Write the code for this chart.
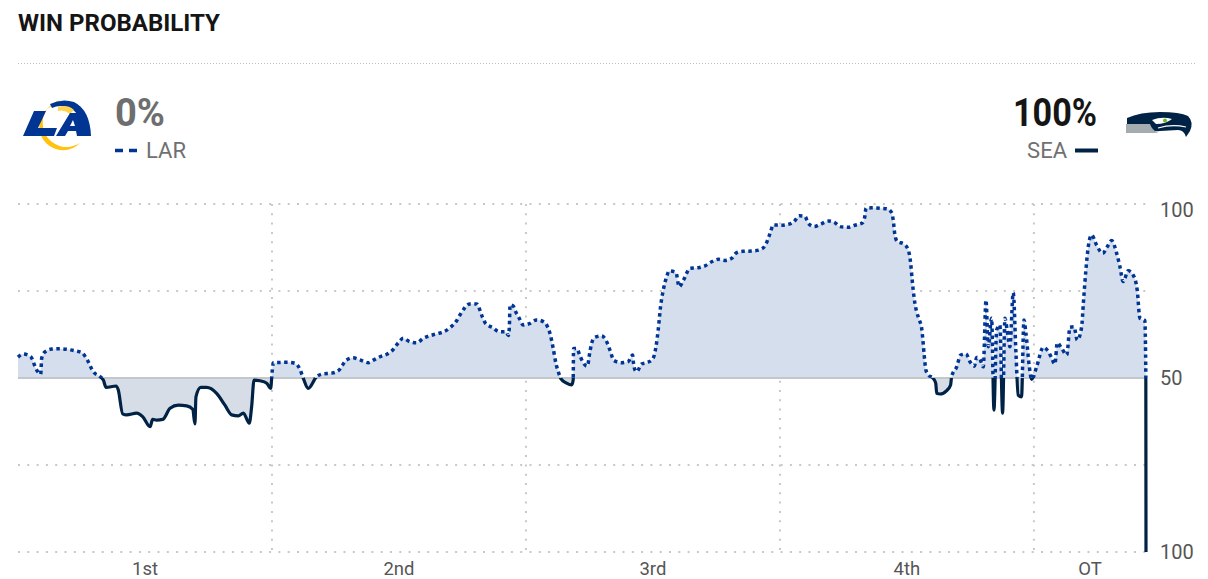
<!DOCTYPE html>
<html>
  <head>
    <meta http-equiv="Content-Type" content="text/html;charset=utf-8" />
    <title>Win probability</title>
    <script type="text/javascript" src="https://d3js.org/d3.v7.min.js"></script>
    <style>
      body { margin: 0; background: #fff; }
      text { font-family: Roboto, "Noto Sans", sans-serif; }
    </style>
  </head>
  <body>
    <div id="chart"></div>

    <script type="text/javascript">
      // game clock elapsed (minutes) and LAR win probability (%)
      var gameMinutes = [
        0, 0.30, 0.75, 1.10, 1.34, 1.40, 1.59, 1.99, 2.48, 3.37,
        3.76, 4.06, 4.45, 4.84, 5.04, 5.20, 5.79, 5.92, 6.18, 6.42,
        7.01, 7.36, 7.80, 7.95, 8.19, 8.55, 8.98, 9.47, 9.96, 10.32,
        10.45, 10.51, 10.79, 11.14, 11.73, 12.22, 12.62, 13.01, 13.31, 13.66,
        13.80, 13.94, 14.29, 14.69, 14.92, 15.02, 15.08, 15.96, 16.36, 16.65,
        16.85, 17.14, 17.64, 18.03, 18.53, 18.92, 19.41, 19.80, 20.20, 20.69,
        21.02, 21.38, 21.81, 22.16, 22.46, 22.75, 23.15, 23.55, 23.93, 24.37,
        24.82, 25.16, 25.55, 25.87, 26.10, 26.69, 27.08, 27.44, 27.64, 28.03,
        28.42, 28.82, 28.96, 29.02, 29.06, 29.25, 29.35, 29.60, 29.84, 30.24,
        30.63, 31.02, 31.26, 31.42, 31.61, 31.77, 31.91, 32.05, 32.40, 32.70,
        32.79, 32.81, 32.99, 33.19, 33.38, 33.62, 33.78, 33.88, 34.07, 34.47,
        34.77, 34.96, 35.20, 35.65, 36.04, 36.30, 36.34, 36.44, 36.54, 36.83,
        37.13, 37.48, 37.68, 37.81, 37.95, 38.11, 38.31, 38.46, 38.86, 39.05,
        39.29, 39.69, 40.18, 40.57, 40.97, 41.36, 41.75, 42.15, 42.44, 42.83,
        43.33, 43.78, 44.11, 44.31, 44.45, 44.60, 45.00, 45.43, 45.83, 46.14,
        46.48, 46.67, 47.01, 47.40, 47.85, 48.25, 48.54, 49.03, 49.43, 49.88,
        50.02, 50.08, 50.41, 50.91, 51.34, 51.60, 51.69, 51.79, 51.93, 52.32,
        52.58, 52.72, 52.81, 52.87, 52.97, 53.07, 53.23, 53.37, 53.46, 53.52,
        53.62, 53.76, 54.05, 54.20, 54.26, 54.45, 54.85, 55.08, 55.14, 55.44,
        55.67, 55.99, 56.22, 56.48, 56.62, 56.81, 57.01, 57.17, 57.30, 57.50,
        57.64, 57.80, 57.99, 58.15, 58.29, 58.42, 58.58, 58.78, 58.94, 59.07,
        59.27, 59.41, 59.53, 59.73, 59.87, 60.16, 60.55, 60.85, 61.05, 61.24,
        61.38, 61.64, 61.94, 62.13, 62.37, 62.56, 62.82, 62.92, 63.07, 63.21,
        63.41, 63.70, 64.06, 64.33, 64.59, 64.89, 65.08, 65.27, 65.57, 65.86,
        66.10, 66.26, 66.55, 66.61, 66.62
      ];
      var larWinPct = [
        56.0, 56.9, 56.1, 52.3, 51.1, 55.7, 57.5, 58.3, 58.4, 57.8,
        57.3, 55.5, 51.8, 50.4, 49.4, 47.3, 47.7, 46.6, 39.7, 39.4,
        39.9, 38.9, 36.0, 38.1, 37.9, 38.1, 41.3, 42.2, 42.0, 41.0,
        36.8, 44.6, 47.3, 47.3, 45.6, 42.2, 39.4, 39.1, 39.9, 37.0,
        41.8, 49.4, 49.2, 48.5, 47.0, 52.3, 54.4, 54.5, 54.2, 52.5,
        49.9, 47.0, 50.4, 51.2, 51.4, 52.1, 55.2, 55.8, 55.2, 54.4,
        55.2, 56.1, 56.9, 58.2, 60.1, 61.4, 60.4, 60.1, 61.4, 62.2,
        62.8, 63.3, 64.6, 66.2, 68.1, 71.3, 71.3, 67.4, 65.5, 64.5,
        63.3, 63.3, 62.2, 64.7, 71.0, 70.7, 69.5, 67.2, 65.2, 65.7,
        66.7, 66.2, 64.9, 62.8, 58.5, 54.2, 51.8, 49.9, 48.5, 48.0,
        49.4, 58.5, 58.5, 56.4, 54.4, 53.4, 57.6, 60.0, 61.7, 62.1,
        60.4, 58.0, 55.0, 54.4, 54.7, 56.6, 54.7, 52.3, 51.8, 54.0,
        54.4, 55.4, 59.0, 63.8, 70.5, 75.3, 79.1, 80.8, 80.3, 76.2,
        78.0, 81.5, 81.7, 82.2, 83.4, 84.1, 83.8, 84.4, 86.0, 86.4,
        86.5, 86.8, 87.9, 90.1, 92.0, 94.0, 93.9, 94.1, 94.9, 96.6,
        96.4, 94.5, 93.5, 94.2, 95.1, 94.6, 93.5, 93.3, 93.9, 94.6,
        96.6, 98.8, 98.9, 98.8, 98.6, 97.5, 95.4, 91.1, 89.2, 88.5,
        86.8, 83.0, 78.2, 75.3, 71.5, 69.1, 66.7, 64.3, 60.0, 56.6,
        52.3, 50.9, 49.9, 48.5, 45.6, 45.4, 46.4, 48.0, 50.4, 53.2,
        56.6, 56.9, 54.7, 53.4, 55.9, 55.4, 53.2, 72.4, 59.0, 67.2,
        40.8, 63.8, 65.2, 39.9, 67.2, 63.8, 59.0, 74.5, 57.1, 45.1,
        44.6, 66.7, 62.8, 53.2, 49.6, 53.2, 58.8, 57.6, 55.7, 54.0,
        60.1, 58.5, 56.6, 64.6, 64.7, 60.9, 64.7, 71.5, 81.0, 87.7,
        91.1, 88.2, 85.8, 87.7, 89.5, 85.8, 82.0, 77.7, 80.8, 79.6,
        75.3, 67.2, 66.5, 50.4, 0
      ];

      var periodLabels = ["1st", "2nd", "3rd", "4th", "OT"];
      var periodStarts = [0, 15, 30, 45, 60];
      var yTicks = [100, 75, 50, 25, 0];
      var yTickLabels = { 100: "100", 50: "50", 0: "100" };

      var teams = [
        { abbr: "LAR", pct: "0%", color: "#003594" },
        { abbr: "SEA", pct: "100%", color: "#002244" }
      ];

      var W = 1208, H = 579;
      var margin = { left: 18, right: 62, top: 204, bottom: 27 };
      var gameEnd = gameMinutes[gameMinutes.length - 1];

      var data = gameMinutes.map((t, i) => ({ t: t, p: larWinPct[i] }));

      var svg = d3
        .select("#chart")
        .append("svg")
        .attr("width", W)
        .attr("height", H);

      var x = d3
        .scaleLinear()
        .domain([0, gameEnd])
        .range([margin.left, W - margin.right]);

      var y = d3
        .scaleLinear()
        .domain([0, 100])
        .range([H - margin.bottom, margin.top]);

      // ---- header
      svg
        .append("text")
        .attr("x", 18)
        .attr("y", 31)
        .attr("font-size", 24)
        .attr("font-weight", 700)
        .attr("fill", "#151515")
        .attr("textLength", 202)
        .attr("lengthAdjust", "spacingAndGlyphs")
        .text("WIN PROBABILITY");

      svg
        .append("line")
        .attr("x1", 18)
        .attr("x2", 1195)
        .attr("y1", 63.5)
        .attr("y2", 63.5)
        .attr("stroke", "#bdbdbd")
        .attr("stroke-width", 1)
        .attr("stroke-dasharray", "1 2");

      // LAR side
      svg
        .append("text")
        .attr("x", 115)
        .attr("y", 126)
        .attr("font-size", 38)
        .attr("font-weight", 700)
        .attr("fill", "#6e6e6e")
        .attr("textLength", 50)
        .attr("lengthAdjust", "spacingAndGlyphs")
        .text(teams[0].pct);

      svg
        .append("line")
        .attr("x1", 115)
        .attr("x2", 138)
        .attr("y1", 150.5)
        .attr("y2", 150.5)
        .attr("stroke", teams[0].color)
        .attr("stroke-width", 3.5)
        .attr("stroke-dasharray", "8 6");

      svg
        .append("text")
        .attr("x", 146)
        .attr("y", 158)
        .attr("font-size", 22)
        .attr("fill", "#707070")
        .text(teams[0].abbr);

      // SEA side
      svg
        .append("text")
        .attr("x", 1097)
        .attr("y", 126)
        .attr("text-anchor", "end")
        .attr("font-size", 38)
        .attr("font-weight", 700)
        .attr("fill", "#151515")
        .attr("textLength", 84)
        .attr("lengthAdjust", "spacingAndGlyphs")
        .text(teams[1].pct);

      svg
        .append("text")
        .attr("x", 1067)
        .attr("y", 158)
        .attr("text-anchor", "end")
        .attr("font-size", 22)
        .attr("fill", "#707070")
        .text(teams[1].abbr);

      svg
        .append("line")
        .attr("x1", 1075)
        .attr("x2", 1098)
        .attr("y1", 150.5)
        .attr("y2", 150.5)
        .attr("stroke", teams[1].color)
        .attr("stroke-width", 4);

      // ---- logos (rough drawings)
      var rams = svg.append("g").attr("class", "logo-lar");
      rams
        .append("path")
        .attr("d", "M60,100 A24,24 0 1,0 80,143 A19,19 0 1,1 46,110 Z")
        .attr("fill", "#ffc20e");
      rams
        .append("path")
        .attr("d", "M50,104 Q62,98 74,102 Q90,110 91,136 L83,136 Q82,114 70,108 Q60,104 52,108 Z")
        .attr("fill", "#003594");
      rams
        .append("path")
        .attr("d", "M58,107 Q68,104 74,110 L70,114 Q64,109 58,111 Z")
        .attr("fill", "#ffd34e");
      rams
        .append("polygon")
        .attr("points", "34,111 46,111 38,128 57,128 54,136 23,136")
        .attr("fill", "#003594");
      rams
        .append("polygon")
        .attr("points", "70,113 79,113 86,136 77,136 76,131 68,131 65,136 56,136")
        .attr("fill", "#003594");
      rams
        .append("polygon")
        .attr("points", "73,120 75,126 70,126")
        .attr("fill", "#fff");

      var hawk = svg.append("g").attr("class", "logo-sea");
      hawk
        .append("path")
        .attr("d", "M1127,118 Q1140,112 1160,112 Q1180,112 1188,116 Q1194,122 1190,131 L1186,137 Q1184,130 1178,130 L1160,131 Q1150,132 1144,128 L1127,126 Z")
        .attr("fill", "#002244");
      hawk
        .append("path")
        .attr("d", "M1126,124 L1150,124 Q1152,130 1158,133 L1126,133 Z")
        .attr("fill", "#a5acaf");
      hawk
        .append("path")
        .attr("d", "M1152,120 Q1162,116 1172,119 Q1166,124 1156,124 Z")
        .attr("fill", "#fff");
      hawk
        .append("circle")
        .attr("cx", 1165)
        .attr("cy", 120.5)
        .attr("r", 2)
        .attr("fill", "#69be28");
      hawk
        .append("path")
        .attr("d", "M1158,128 Q1172,124 1186,127")
        .attr("fill", "none")
        .attr("stroke", "#fff")
        .attr("stroke-width", 1.2);

      // ---- grid
      var grid = svg.append("g").attr("class", "grid");

      grid
        .selectAll("line.h")
        .data(yTicks.filter(d => d !== 50))
        .enter()
        .append("line")
        .attr("class", "h")
        .attr("x1", x(0))
        .attr("x2", x(gameEnd))
        .attr("y1", d => y(d))
        .attr("y2", d => y(d))
        .attr("stroke", "#c8c8c8")
        .attr("stroke-width", 2)
        .attr("stroke-dasharray", "2 7.3");

      grid
        .selectAll("line.v")
        .data(periodStarts.slice(1))
        .enter()
        .append("line")
        .attr("class", "v")
        .attr("x1", d => x(d))
        .attr("x2", d => x(d))
        .attr("y1", y(100))
        .attr("y2", y(0))
        .attr("stroke", "#c8c8c8")
        .attr("stroke-width", 2)
        .attr("stroke-dasharray", "2 7.3");

      // ---- clip halves
      var defs = svg.append("defs");
      defs
        .append("clipPath")
        .attr("id", "clip-above")
        .append("rect")
        .attr("x", 0)
        .attr("y", 0)
        .attr("width", W)
        .attr("height", y(50));
      defs
        .append("clipPath")
        .attr("id", "clip-below")
        .append("rect")
        .attr("x", 0)
        .attr("y", y(50))
        .attr("width", W)
        .attr("height", H - y(50));

      var area = d3
        .area()
        .x(d => x(d.t))
        .y0(y(50))
        .y1(d => y(d.p))
        .curve(d3.curveMonotoneX);

      var line = d3
        .line()
        .x(d => x(d.t))
        .y(d => y(d.p))
        .curve(d3.curveMonotoneX);

      svg
        .append("path")
        .datum(data)
        .attr("class", "area-lar")
        .attr("clip-path", "url(#clip-above)")
        .attr("d", area)
        .attr("fill", "#d4deed");

      svg
        .append("path")
        .datum(data)
        .attr("class", "area-sea")
        .attr("clip-path", "url(#clip-below)")
        .attr("d", area)
        .attr("fill", "#d7dde6");

      svg
        .append("line")
        .attr("class", "midline")
        .attr("x1", x(0))
        .attr("x2", x(gameEnd))
        .attr("y1", y(50))
        .attr("y2", y(50))
        .attr("stroke", "#c3c7cc")
        .attr("stroke-width", 2);

      svg
        .append("path")
        .datum(data)
        .attr("class", "line-lar")
        .attr("clip-path", "url(#clip-above)")
        .attr("d", line)
        .attr("fill", "none")
        .attr("stroke", teams[0].color)
        .attr("stroke-width", 3.5)
        .attr("stroke-dasharray", "3.5 3.5");

      svg
        .append("path")
        .datum(data)
        .attr("class", "line-sea")
        .attr("clip-path", "url(#clip-below)")
        .attr("d", line)
        .attr("fill", "none")
        .attr("stroke", teams[1].color)
        .attr("stroke-width", 3.2)
        .attr("stroke-linejoin", "round");

      // ---- axis labels
      var periodEnds = periodStarts.slice(1).concat([gameEnd]);
      svg
        .selectAll("text.period")
        .data(periodLabels)
        .enter()
        .append("text")
        .attr("class", "period")
        .attr("x", (d, i) => x((periodStarts[i] + periodEnds[i]) / 2))
        .attr("y", 575)
        .attr("text-anchor", "middle")
        .attr("font-size", 18.5)
        .attr("fill", "#555")
        .text(d => d);

      svg
        .selectAll("text.ytick")
        .data(yTicks.filter(d => yTickLabels[d]))
        .enter()
        .append("text")
        .attr("class", "ytick")
        .attr("x", 1160)
        .attr("y", d => Math.max(y(d), 210))
        .attr("dy", "0.36em")
        .attr("font-size", 20)
        .attr("fill", "#555")
        .text(d => yTickLabels[d]);
    </script>
  </body>
</html>
